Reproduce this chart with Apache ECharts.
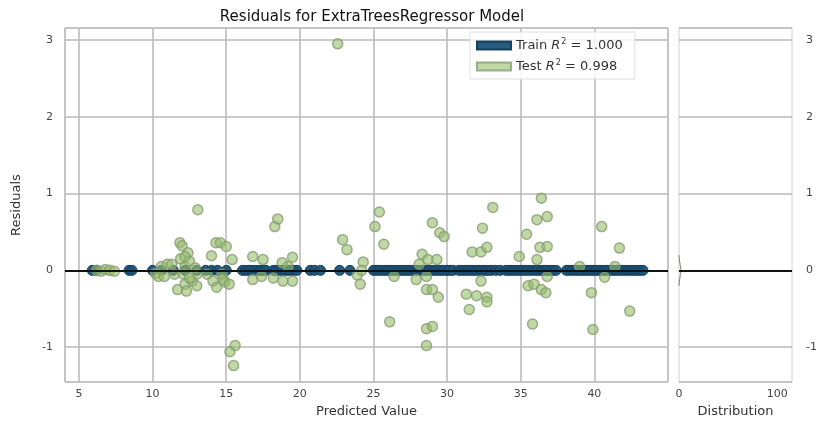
<!DOCTYPE html>
<html>
<head>
<meta charset="utf-8">
<script src="https://cdn.jsdelivr.net/npm/echarts@6/dist/echarts.min.js"></script>
<style>html,body{margin:0;padding:0;background:#fff}#c{width:820px;height:423px}</style>
</head>
<body>
<div id="c"></div>
<script>
// ---- data ----
const chartTitle = 'Residuals for ExtraTreesRegressor Model';
const legendNames = ['Train', 'Test'];
const r2Scores = ['1.000', '0.998'];
const trainX = [5.9,6.2,8.4,8.6,10.0,10.6,11.4,12.2,13.0,13.6,14.0,14.4,15.0,
  16.1,16.3,16.5,16.7,16.9,17.1,17.3,17.5,17.7,18.2,18.4,18.6,18.8,19.0,19.2,19.4,19.6,19.8,
  20.7,21.0,21.4,22.7,23.4,
  25.0,25.2,25.4,25.6,25.8,26.0,26.2,26.4,26.6,26.8,27.0,27.2,27.4,27.6,27.8,28.0,28.2,28.4,28.6,28.8,29.0,29.2,29.4,29.6,29.8,30.0,30.2,30.4,
  30.8,31.0,31.2,31.4,31.6,31.8,32.0,32.2,32.4,32.6,32.8,33.0,33.3,33.6,
  34.0,34.2,34.4,34.6,34.8,35.0,35.2,35.4,35.6,35.8,36.0,36.2,36.4,36.6,36.8,37.0,37.2,37.4,
  38.1,38.3,38.5,38.7,38.9,39.1,39.3,39.5,39.7,39.9,40.1,40.3,40.5,40.7,40.9,41.1,41.3,41.5,41.7,41.9,42.1,42.3,42.5,42.7,42.9,43.1,43.3];
const trainResid = [0,0,0,0,0,0,0,0,0,0,0,0,0,
  0,0,0,0,0,0,0,0,0,0,0,0,0,0,0,0,0,0,
  0,0,0,0,0,
  0,0,0,0,0,0,0,0,0,0,0,0,0,0,0,0,0,0,0,0,0,0,0,0,0,0,0,0,
  0,0,0,0,0,0,0,0,0,0,0,0,0,0,
  0,0,0,0,0,0,0,0,0,0,0,0,0,0,0,0,0,0,
  0,0,0,0,0,0,0,0,0,0,0,0,0,0,0,0,0,0,0,0,0,0,0,0,0,0,0];
const testX = [6.2,6.5,6.8,7.1,7.4,
  10.2,10.4,10.6,10.8,11.0,11.3,11.5,11.7,11.85,12.0,12.2,12.2,12.3,12.4,12.5,12.7,13.0,13.0,13.07,12.1,12.5,12.9,11.9,12.2,
  13.7,14.0,14.1,14.3,14.35,14.6,14.7,14.8,14.9,15.0,15.2,15.4,15.6,15.25,15.5,
  16.8,17.5,16.8,17.4,18.3,18.5,18.8,19.5,18.85,19.5,18.2,19.2,
  22.57,22.9,23.2,24.3,23.9,24.1,24.2,
  25.4,25.1,25.7,26.4,26.1,
  29.0,29.5,29.8,28.3,28.7,29.3,28.1,27.9,28.6,28.6,29.0,29.4,28.6,29.0,28.6,
  33.1,32.4,31.7,32.3,32.7,32.3,31.3,32.0,32.7,32.7,31.5,34.9,
  36.4,36.1,36.8,35.4,36.3,36.8,36.1,36.8,35.5,35.9,36.4,36.7,35.8,
  40.5,41.7,39.0,41.4,40.7,39.8,42.4,39.9];
const testResid = [0.0,-0.01,0.01,0.0,-0.01,
  -0.04,-0.08,0.05,-0.08,0.08,0.08,-0.05,-0.25,0.36,0.32,0.05,-0.18,-0.27,0.23,0.12,-0.14,-0.05,-0.2,0.79,-0.05,-0.1,0.03,0.15,0.18,
  -0.05,0.19,-0.14,0.36,-0.22,0.36,-0.05,-0.12,-0.15,0.31,-0.18,0.14,-0.98,-1.06,-1.24,
  0.18,0.14,-0.12,-0.08,0.57,0.67,0.1,0.17,-0.14,-0.14,-0.1,0.05,
  2.95,0.40,0.27,0.11,-0.06,-0.18,0.0,
  0.76,0.57,0.34,-0.08,-0.67,
  0.62,0.49,0.44,0.21,0.14,0.14,0.08,-0.12,-0.08,-0.25,-0.25,-0.35,-0.76,-0.73,-0.98,
  0.82,0.55,0.24,0.24,0.3,-0.14,-0.31,-0.33,-0.35,-0.41,-0.51,0.18,
  0.94,0.66,0.7,0.47,0.3,0.31,0.14,-0.08,-0.2,-0.18,-0.25,-0.29,-0.70,
  0.57,0.29,0.05,0.05,-0.09,-0.29,-0.53,-0.77];
const distResid = [-0.2,-0.14,-0.08,-0.03,0,0.03,0.08,0.14,0.2];
const distCount = [0,0.4,1.1,1.8,2.1,1.8,1.1,0.4,0];
const xTitle = 'Predicted Value', yTitle = 'Residuals', distTitle = 'Distribution';

const zip = (a, b) => a.map((v, i) => [v, b[i]]);
const gridColor = '#b8b8b8';
const lblStyle = {color: '#444', fontSize: 11, fontFamily: 'DejaVu Sans'};
const nameStyle = {color: '#333', fontSize: 13, fontFamily: 'DejaVu Sans'};

const chart = echarts.init(document.getElementById('c'), null, {renderer: 'canvas'});
chart.setOption({
  animation: false,
  backgroundColor: '#fff',
  title: {text: chartTitle, left: 367, textAlign: 'center', top: 5,
    textStyle: {fontSize: 15, fontWeight: 'normal', color: '#111', fontFamily: 'DejaVu Sans'}},
  legend: {
    data: legendNames, orient: 'vertical', left: 470, top: 32, itemGap: 7,
    icon: 'rect', itemWidth: 34, itemHeight: 8,
    padding: [6, 12, 6, 6],
    backgroundColor: 'rgba(255,255,255,0.85)', borderColor: '#dddddd', borderWidth: 1,
    formatter: n => n + ' {i|R}{s|2} = ' + r2Scores[legendNames.indexOf(n)],
    textStyle: {fontSize: 13, color: '#333', fontFamily: 'DejaVu Sans',
      rich: {i: {fontStyle: 'italic', fontSize: 13, fontFamily: 'DejaVu Sans'},
             s: {fontSize: 8, verticalAlign: 'top', padding: [0, 0, 7, 1], fontFamily: 'DejaVu Sans'}}}
  },
  grid: [
    {left: 65, right: 152, top: 28, bottom: 40, show: true, borderColor: '#d0d0d0', borderWidth: 1},
    {left: 679, right: 23, top: 28, bottom: 40, show: true, borderColor: '#d0d0d0', borderWidth: 1}
  ],
  xAxis: [
    {gridIndex: 0, type: 'value', min: 4.05, max: 45, minInterval: 5, maxInterval: 5,
     name: xTitle, nameLocation: 'middle', nameGap: 22, nameTextStyle: nameStyle,
     axisLine: {show: false}, axisTick: {show: false},
     axisLabel: Object.assign({margin: 7, showMinLabel: false, showMaxLabel: false}, lblStyle),
     splitLine: {show: true, lineStyle: {color: gridColor, width: 1.5}}},
    {gridIndex: 1, type: 'value', min: 0, max: 115, interval: 100,
     name: distTitle, nameLocation: 'middle', nameGap: 22, nameTextStyle: nameStyle,
     axisLine: {show: false}, axisTick: {show: false},
     axisLabel: Object.assign({margin: 7, showMaxLabel: false}, lblStyle),
     splitLine: {show: false}}
  ],
  yAxis: [
    {gridIndex: 0, type: 'value', min: -1.455, max: 3.156, minInterval: 1, maxInterval: 1,
     name: yTitle, nameLocation: 'middle', nameGap: 42, nameRotate: 90, nameTextStyle: nameStyle,
     axisLine: {show: false}, axisTick: {show: false},
     axisLabel: Object.assign({margin: 12, showMinLabel: false, showMaxLabel: false}, lblStyle),
     splitLine: {show: true, lineStyle: {color: gridColor, width: 1.5}}},
    {gridIndex: 1, type: 'value', position: 'right', min: -1.455, max: 3.156, minInterval: 1, maxInterval: 1,
     axisLine: {show: false}, axisTick: {show: false},
     axisLabel: Object.assign({margin: 14, showMinLabel: false, showMaxLabel: false}, lblStyle),
     splitLine: {show: true, lineStyle: {color: gridColor, width: 1.5}}}
  ],
  series: [
    {name: 'Train', type: 'scatter', xAxisIndex: 0, yAxisIndex: 0, z: 2,
     symbolSize: 10, data: zip(trainX, trainResid),
     itemStyle: {color: '#1b5378', borderColor: '#123a55', borderWidth: 1, opacity: 0.95}},
    {name: 'Test', type: 'scatter', xAxisIndex: 0, yAxisIndex: 0, z: 3,
     symbolSize: 10, data: zip(testX, testResid),
     itemStyle: {color: 'rgba(150,190,105,0.75)', borderColor: '#879b73', borderWidth: 1.5}},
    {name: 'zero', type: 'scatter', xAxisIndex: 0, yAxisIndex: 0, z: 5, data: [],
     markLine: {silent: true, symbol: 'none', label: {show: false},
       lineStyle: {color: '#111', width: 2, type: 'solid'}, data: [{yAxis: 0}]}},
    {name: 'dist', type: 'line', xAxisIndex: 1, yAxisIndex: 1, z: 4, smooth: true, showSymbol: false,
     data: zip(distCount, distResid), lineStyle: {color: '#6f7d5e', width: 1},
     markLine: {silent: true, symbol: 'none', label: {show: false},
       lineStyle: {color: '#111', width: 2, type: 'solid'}, data: [{yAxis: 0}]}}
  ]
});
</script>
</body>
</html>
